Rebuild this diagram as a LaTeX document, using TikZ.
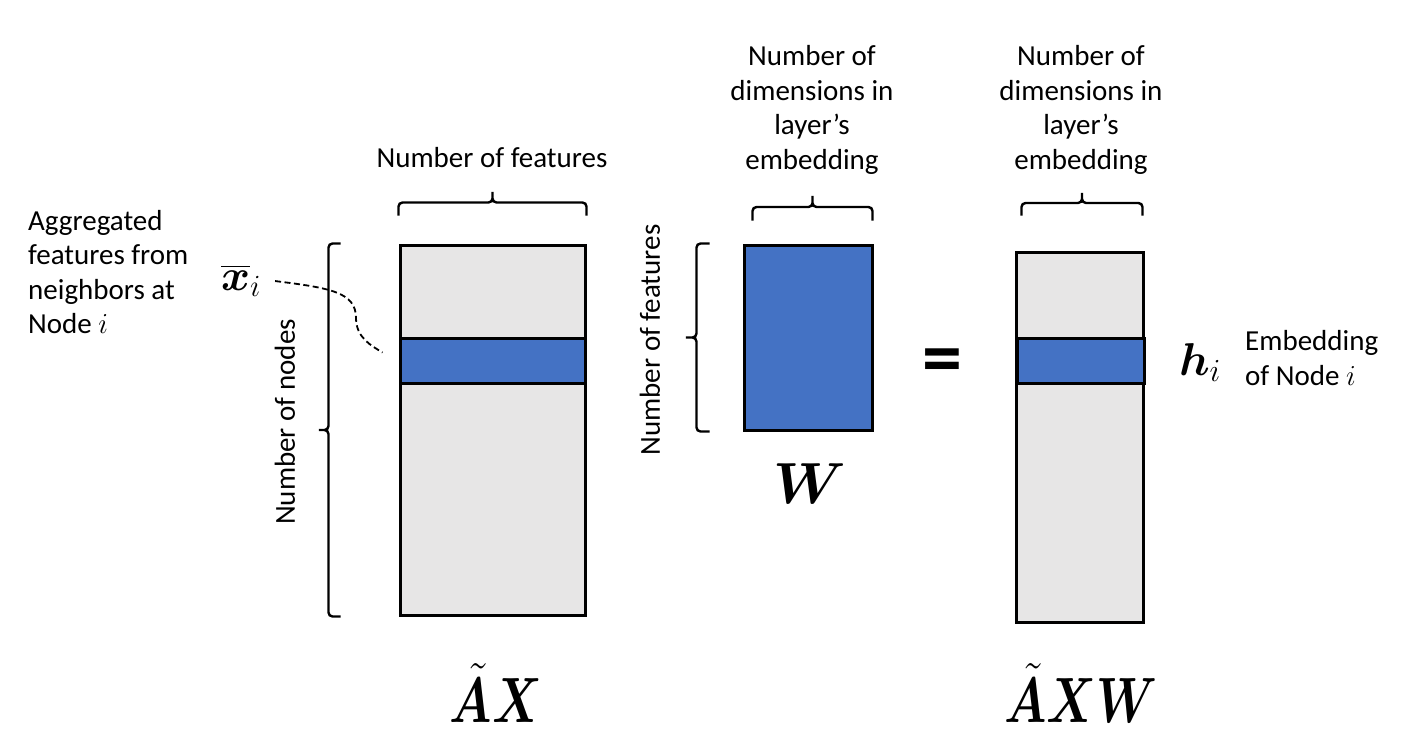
\RequirePackage{fix-cm}
\documentclass[tikz,border=0pt]{standalone}
\usepackage{amsmath}
\usepackage{bm}
\usepackage{fontspec}
\setmainfont{Carlito}
\usetikzlibrary{calc}
\definecolor{rowblue}{HTML}{4472C4}
\definecolor{matgray}{HTML}{E7E6E6}

\begin{document}
\begin{tikzpicture}[
  x=1pt,y=-1pt,  mat/.style={draw,line width=3pt,fill=matgray,inner sep=0pt},  band/.style={draw,line width=3pt,fill=rowblue,inner sep=0pt},  sqbrace/.style={line width=2.4pt,rounded corners=4pt,to path={
    -- ($(\tikztostart)!#1/2!90:(\tikztotarget)$)
    -- ($(\tikztostart)!0.5!(\tikztotarget)!#1/2!90:(\tikztotarget)$)
    -- ($(\tikztostart)!0.5!(\tikztotarget)!#1!90:(\tikztotarget)$)
    -- ($(\tikztostart)!0.5!(\tikztotarget)!#1/2!90:(\tikztotarget)$)
    -- ($(\tikztotarget)!#1/2!-90:(\tikztostart)$)
    -- (\tikztotarget)}},  lbl/.style={font=\fontsize{29}{34.5}\selectfont,align=center,inner sep=0pt},  bigsym/.style={anchor=base,inner sep=0pt,xscale=0.76,font=\fontsize{64}{64}\selectfont},  dashline/.style={line width=1.8pt,dash pattern=on 6pt off 3.5pt}
]
  \useasboundingbox (0,0) rectangle (1428,748);
  \node[mat,minimum width=185pt,minimum height=370pt] (ax) at (492.5,430) {};
  \node[band,minimum width=185pt,minimum height=45pt] (axrow) at (492.5,360.5) {};
  \node[band,minimum width=128pt,minimum height=185pt] (w) at (808,337.5) {};
  \node[mat,minimum width=127pt,minimum height=370pt] (axw) at (1079.5,437) {};
  \node[band,minimum width=127pt,minimum height=45pt] (axwrow) at (1081,360.5) {};
  \draw[sqbrace=26pt] ([yshift=28]ax.north west) to ([yshift=28]ax.north east);
  \draw[sqbrace=24pt] ([xshift=-58]ax.south west) to ([xshift=-58]ax.north west);
  \draw[sqbrace=27pt] ([xshift=10,yshift=23]w.north west) to ([xshift=-1,yshift=23]w.north east);
  \draw[sqbrace=26pt] ([xshift=-33]w.south west) to ([xshift=-33]w.north west);
  \draw[sqbrace=25pt] ([xshift=7,yshift=35]axw.north west) to ([xshift=-2,yshift=35]axw.north east);
  \node[lbl] (nfeat) at (492,158) {Number of features};
  \node[lbl] (wdim) at (812,110) {Number of\\dimensions in\\layer’s\\embedding};
  \node[lbl] (axwdim) at (1081,110) {Number of\\dimensions in\\layer’s\\embedding};
  \node[lbl,rotate=90] (nnodes) at (285,422) {Number of nodes};
  \node[lbl,rotate=90] (wfeat) at (650,340) {Number of features};
  \node[lbl,align=left,anchor=west] (aggtext) at (28,272) {Aggregated\\features from\\neighbors at\\Node $i$};
  \node[lbl,align=left,anchor=west] (embtext) at (1245,358) {Embedding\\of Node $i$};
  \node[anchor=base,inner sep=0pt,font=\fontsize{44}{44}\selectfont] (xbar) at (241,290) {$\overline{\bm{x}}_i$};
  \node[anchor=base,inner sep=0pt,font=\fontsize{46}{46}\selectfont] (hsym) at (1200,375) {$\bm{h}_i$};
  \node[anchor=base,inner sep=0pt,font=\fontsize{58}{58}\selectfont] (wsym) at (810,503) {$\bm{W}$};
  \node[bigsym] (axsym) at (496,722) {$\bm{\tilde{A}X}$};
  \node[bigsym] (axwsym) at (1081,722) {$\bm{\tilde{A}XW}$};
  \node[inner sep=0pt,font=\fontsize{80}{80}\selectfont\bfseries] (eq) at (942,367) {=};
  \coordinate (xend) at ([xshift=-16,yshift=8]axrow.west);
  \draw[dashline] ([xshift=14]xbar.east) .. controls (330,288) and (356,292) .. (356,318) .. controls (356,338) and (372,346) .. (xend);
\end{tikzpicture}
\end{document}
